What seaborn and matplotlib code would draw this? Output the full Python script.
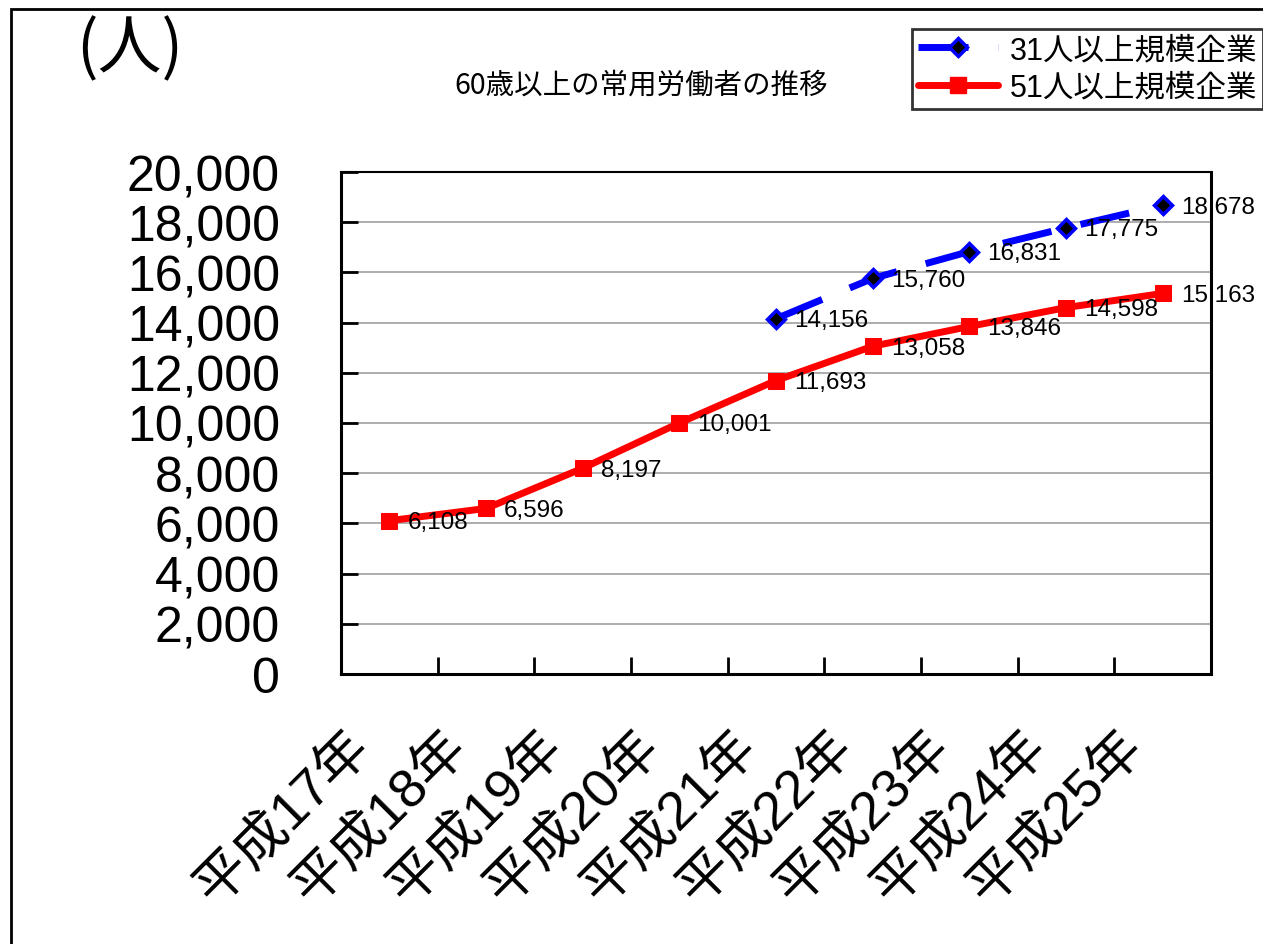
import matplotlib
matplotlib.use("Agg")
import matplotlib.pyplot as plt
import matplotlib.transforms as mtransforms
from matplotlib import font_manager
from matplotlib.patches import Rectangle
from matplotlib.lines import Line2D
import seaborn as sns
import pandas as pd

categories = ["平成17年", "平成18年", "平成19年", "平成20年", "平成21年",
              "平成22年", "平成23年", "平成24年", "平成25年"]
red_values = [6108, 6596, 8197, 10001, 11693, 13058, 13846, 14598, 15163]
blue_categories = ["平成21年", "平成22年", "平成23年", "平成24年", "平成25年"]
blue_values = [14156, 15760, 16831, 17775, 18678]
red_label = "51人以上規模企業"
blue_label = "31人以上規模企業"
title = "60歳以上の常用労働者の推移"
unit = "(人)"
yticks = list(range(0, 20001, 2000))

sns.set_theme(style="white")
names = {f.name for f in font_manager.fontManager.ttflist}
narrow = "Liberation Sans Narrow" if "Liberation Sans Narrow" in names else "Liberation Sans"
plt.rcParams["font.family"] = ["Liberation Sans", "Noto Sans CJK JP", "DejaVu Sans"]
plt.rcParams["text.color"] = "black"
plt.rcParams["xtick.color"] = "black"
plt.rcParams["ytick.color"] = "black"
plt.rcParams["xtick.labelcolor"] = "black"
plt.rcParams["ytick.labelcolor"] = "black"
label_family = [narrow, "Noto Sans CJK JP", "DejaVu Sans"]

fig = plt.figure(figsize=(12.63, 9.45), dpi=100)
fig.patch.set_facecolor("white")
W, H = 1263, 945
ax = fig.add_axes([341 / W, 1 - 675 / H, (1211 - 341) / W, (675 - 173) / H])

idx = {c: i for i, c in enumerate(categories)}
df_red = pd.DataFrame({"x": [idx[c] for c in categories], "y": red_values})
df_blue = pd.DataFrame({"x": [idx[c] for c in blue_categories], "y": blue_values})

LW = 5
DASH = (0, (7.2, 4.3))
sns.lineplot(data=df_blue, x="x", y="y", ax=ax, color="#0000ff", lw=LW,
             linestyle=DASH, marker="D", markersize=9,
             markerfacecolor="black", markeredgecolor="#0000ff", markeredgewidth=2.5,
             legend=False, zorder=3)
sns.lineplot(data=df_red, x="x", y="y", ax=ax, color="#ff0000", lw=LW,
             marker="s", markersize=12, markeredgecolor="#ff0000",
             legend=False, zorder=3)

for x, v in zip(df_red["x"], df_red["y"]):
    ax.annotate(f"{v:,}", (x, v), xytext=(13, -1), textcoords="offset points",
                ha="left", va="center", fontsize=17.5, family=label_family,
                color="black", zorder=4)
for x, v in zip(df_blue["x"], df_blue["y"]):
    ax.annotate(f"{v:,}", (x, v), xytext=(13, -1), textcoords="offset points",
                ha="left", va="center", fontsize=17.5, family=label_family,
                color="black", zorder=4)

ax.set_xlim(-0.5, len(categories) - 0.5)
ax.set_ylim(0, 20000)
ax.set_yticks(yticks)
ax.set_yticklabels([f"{t:,}" for t in yticks])
ax.tick_params(axis="y", direction="in", length=12, width=2, color="black",
               labelsize=36, pad=44, left=True, labelcolor="black")
ax.yaxis.grid(True, color="#a0a0a0", lw=1.2)
ax.xaxis.grid(False)
ax.set_axisbelow(True)

ax.set_xticks([i + 0.5 for i in range(len(categories) - 1)])
ax.set_xticklabels([])
ax.tick_params(axis="x", which="major", direction="in", length=12, width=2,
               color="black", bottom=True)
ax.set_xticks(range(len(categories)), minor=True)
ax.set_xticklabels(categories, minor=True, rotation=45, ha="right",
                   rotation_mode="anchor", va="center", fontsize=39,
                   color="black")
ax.tick_params(axis="x", which="minor", length=0, pad=47, bottom=True)
offset = mtransforms.ScaledTranslation(-27 / 100, 0, fig.dpi_scale_trans)
for lab in ax.get_xticklabels(minor=True):
    lab.set_transform(lab.get_transform() + offset)

ax.set_xlabel("")
ax.set_ylabel("")
for side in ["left", "right", "bottom"]:
    ax.spines[side].set_color("black")
    ax.spines[side].set_linewidth(2.2)
ax.spines["top"].set_color("black")
ax.spines["top"].set_linewidth(1.5)

fig.text(641 / W, 1 - 86 / H, title, ha="center", va="center", fontsize=20.5,
         family=["Noto Sans CJK JP", "DejaVu Sans"], color="black")
fig.text(76 / W, 1 - 50 / H, unit, ha="left", va="center", fontsize=46,
         family=["Noto Sans CJK JP", "DejaVu Sans"], color="black")

handles = [
    Line2D([], [], color="#0000ff", lw=LW, linestyle=DASH, marker="D",
           markersize=9, markerfacecolor="black", markeredgecolor="#0000ff",
           markeredgewidth=2.5),
    Line2D([], [], color="#ff0000", lw=LW, marker="s", markersize=12,
           markeredgecolor="#ff0000"),
]
leg = fig.legend(handles, [blue_label, red_label], loc="upper left",
                 bbox_to_anchor=(912 / W, 1 - 30 / H), borderaxespad=0,
                 frameon=True, fancybox=False, edgecolor="black",
                 handlelength=2.6, handletextpad=0.4, borderpad=0.2,
                 labelspacing=0.25,
                 prop={"family": ["Liberation Sans", "Noto Sans CJK JP"], "size": 22})
leg.get_frame().set_linewidth(2)
for t in leg.get_texts():
    t.set_color("black")

fig.patches.append(Rectangle((11 / W, -0.05), 1.2, 1 - 10 / H + 0.05,
                             transform=fig.transFigure, fill=False,
                             edgecolor="black", lw=2))

fig.savefig("out.png", dpi=100)
